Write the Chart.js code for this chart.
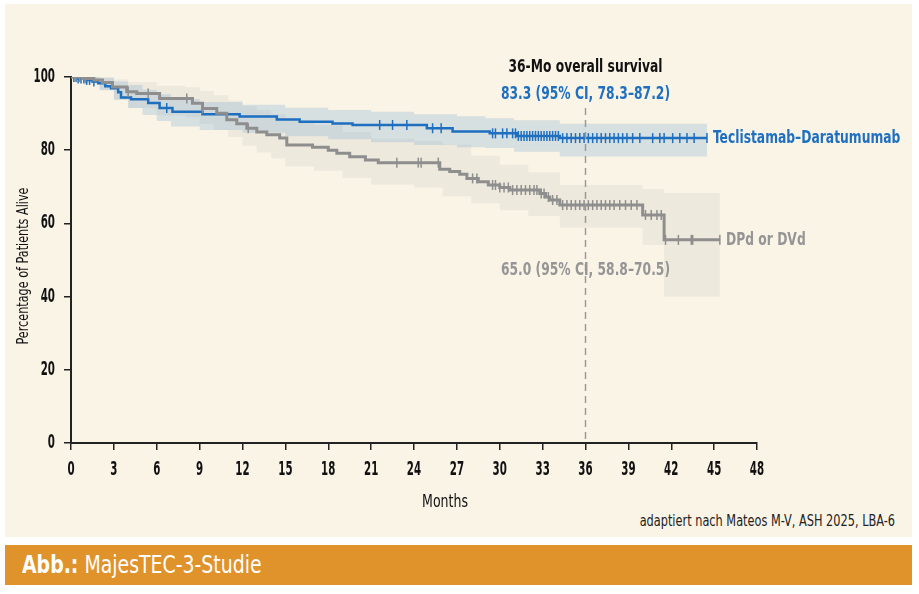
<!DOCTYPE html>
<html>
<head>
<meta charset="utf-8">
<script src="https://cdn.jsdelivr.net/npm/chart.js@4"></script>
<style>
  body { margin: 0; background: #fff; width: 919px; height: 594px; overflow: hidden; position: relative; }
  #panel { position: absolute; left: 5px; top: 4px; width: 907px; height: 533px; background: #FAF4E7; }
  #banner { position: absolute; left: 5px; top: 545px; width: 907px; height: 40px; background: #E0922B; }
  #banner span { position: absolute; left: 17px; top: 5px; line-height: 40px; white-space: nowrap; color: #fff;
                 font: 25px 'DejaVu Sans Condensed', 'DejaVu Sans', sans-serif; transform: scaleX(0.84); transform-origin: 0 50%; }
  #banner b { font-weight: bold; }
  #source { position: absolute; right: 24px; top: 512px; white-space: nowrap; color: #222;
            font: 15px 'DejaVu Sans Condensed', 'DejaVu Sans', sans-serif; transform: scaleX(0.84); transform-origin: 100% 50%; }
  canvas { position: absolute; left: 0; top: 0; }
</style>
</head>
<body>
<div id="panel"></div>
<div id="source">adaptiert nach Mateos M-V, ASH 2025, LBA-6</div>
<div id="banner"><span><b>Abb.:</b> MajesTEC-3-Studie</span></div>
<canvas id="km" width="919" height="594"></canvas>
<script>
const FONT = "'DejaVu Sans Condensed', 'DejaVu Sans', sans-serif";
const BLUE = '#1E6FC0';
const GREY = '#8E8E8E';
const GREY_TEXT = '#959595';

// Teclistamab–Daratumumab (months, % alive)
const tecTimes = [0, 0.5, 1.0, 1.5, 1.9, 2.4, 2.8, 3.3, 3.5, 4.2, 5.4, 6.2, 7.1, 9.2, 11.8, 14.4, 16.0, 18.3, 19.7, 24.9, 26.7, 29.3, 31.2, 34.2, 44.5];
const tecSurv  = [100, 99.6, 99.2, 98.8, 98.3, 97.5, 96.9, 95.8, 94.4, 93.9, 92.9, 91.5, 90.5, 89.8, 89.2, 88.4, 87.8, 87.3, 86.9, 86.0, 85.1, 84.6, 83.9, 83.3, 83.3];
const tecCiTimes = [0, 1, 2, 3, 4, 5, 6, 7, 9, 12, 15, 18, 21, 24, 27, 29, 31, 34.2, 44.5];
const tecCiHigh  = [100, 100, 99.8, 98.8, 97.8, 96.5, 95.3, 94.0, 93.2, 92.4, 91.6, 91.0, 90.5, 89.8, 89.3, 88.7, 88.2, 87.2, 87.2];
const tecCiLow   = [100, 98.4, 96.4, 93.8, 91.5, 89.6, 88.0, 86.5, 85.5, 84.8, 83.8, 83.0, 82.2, 81.4, 80.8, 80.6, 79.6, 78.3, 78.3];
const tecCensor = [0.2, 0.35, 0.5, 0.7, 0.9, 1.1, 1.3, 1.6, 6.7, 21.6, 22.5, 23.5, 25.3, 25.9, 29.5, 29.7, 30.2, 30.5,
  30.9, 31.1, 31.3, 31.5, 31.7, 31.9, 32.1, 32.3, 32.5, 32.7, 32.9, 33.1, 33.3, 33.5, 33.7, 33.9, 34.1, 34.4, 34.7,
  35.0, 35.3, 35.6, 35.9, 36.2, 36.5, 36.8, 37.1, 37.4, 37.7, 38.0, 38.3, 38.6, 38.9, 39.3, 39.8, 40.7, 41.2, 41.5,
  42.1, 42.6, 43.1, 43.6, 44.5];

// DPd or DVd
const dpdTimes = [0, 0.8, 1.6, 2.2, 2.9, 3.9, 4.6, 6.2, 8.5, 9.2, 10.2, 10.9, 11.6, 12.3, 13.0, 13.7, 14.6, 15.1, 16.9, 18.0, 18.6, 19.5, 20.6, 21.5, 25.8, 26.5, 27.2, 27.7, 28.5, 29.2, 30.0, 30.7, 32.8, 33.2, 33.5, 34.2, 40.0, 41.5, 45.4];
const dpdSurv  = [100, 99.6, 99.2, 98.5, 97.3, 96.0, 95.5, 94.1, 92.8, 91.4, 90.1, 88.3, 87.2, 86.0, 85.0, 84.2, 83.3, 81.4, 80.8, 80.0, 79.2, 78.2, 77.3, 76.6, 74.8, 74.2, 73.4, 72.3, 71.4, 70.5, 69.8, 69.1, 68.2, 67.2, 66.4, 65.0, 62.3, 55.5, 55.5];
const dpdCiTimes = [0, 1, 2, 3, 4, 6, 8, 9, 10, 11, 12, 13, 14, 15, 17, 19, 21, 24, 26, 28, 30, 32, 34.2, 40.0, 41.5, 45.4];
const dpdCiHigh  = [100, 100, 99.9, 99.3, 98.6, 97.6, 97.2, 96.2, 95.0, 93.6, 92.0, 91.0, 89.8, 88.2, 86.8, 85.0, 83.2, 82.6, 81.5, 78.5, 76.0, 74.0, 70.5, 69.4, 68.3, 68.3];
const dpdCiLow   = [100, 98.2, 96.5, 93.8, 91.5, 89.5, 89.0, 87.2, 85.5, 83.6, 81.2, 79.4, 77.8, 75.6, 74.4, 72.4, 70.6, 69.8, 67.4, 65.5, 63.6, 62.0, 58.8, 54.1, 40.0, 40.0];
const dpdCensor = [0.3, 0.6, 1.0, 4.0, 5.4, 8.1, 9.2, 12.4, 22.8, 24.3, 24.5, 25.7, 28.1, 28.4, 29.5, 29.7, 30.0, 30.3,
  30.6, 30.9, 31.2, 31.5, 31.8, 32.1, 32.4, 32.6, 32.9, 33.1, 33.4, 33.7, 34.0, 34.4, 34.7, 35.0, 35.3, 35.6, 35.9,
  36.2, 36.5, 36.8, 37.1, 37.4, 37.7, 38.0, 38.4, 38.8, 39.2, 39.6, 40.2, 40.6, 41.0, 41.3, 41.6, 42.5, 43.4, 43.5, 45.4];

const landmark = 36;
const landmarkTop = 91.5;

function pts(times, vals) {
  return times.map((t, i) => ({ x: t, y: vals[i] }));
}
// y of a KM step curve at time t
function stepAt(times, vals, t) {
  let v = vals[0];
  for (let i = 0; i < times.length; i++) { if (times[i] <= t) v = vals[i]; }
  return v;
}
function censorPts(cens, times, vals) {
  return cens.map(t => ({ x: t, y: stepAt(times, vals, t) }));
}

const stepLine = (data, color, width) => ({
  data, borderColor: color, borderWidth: width, pointRadius: 0, stepped: true, fill: false
});
const band = (data, fillColor, fill) => ({
  data, borderWidth: 0, borderColor: 'transparent', backgroundColor: fillColor, pointRadius: 0, stepped: true, fill
});
const ticks = (data, color) => ({
  type: 'scatter', data, showLine: false, pointStyle: 'line', rotation: 90, pointRadius: 5,
  borderColor: color, borderWidth: 1.5, backgroundColor: color
});

// the reference uses a condensed face, so squeeze the text horizontally
function narrowText(ctx, text, x, y, font, color, align, sx, rot) {
  ctx.save();
  ctx.translate(x, y);
  if (rot) ctx.rotate(rot);
  ctx.scale(sx, 1);
  ctx.font = font;
  ctx.fillStyle = color;
  ctx.textAlign = align;
  ctx.textBaseline = 'middle';
  ctx.fillText(text, 0, 0);
  ctx.restore();
}

const textPlugin = {
  id: 'texts',
  afterDraw(chart) {
    const { ctx, scales: { x, y } } = chart;
    const tickFont = 'bold 19px ' + FONT;
    x.ticks.forEach((t, i) => narrowText(ctx, String(t.value), x.getPixelForTick(i), 470, tickFont, '#111', 'center', 0.6));
    y.ticks.forEach((t, i) => narrowText(ctx, String(t.value), 55, y.getPixelForTick(i), tickFont, '#111', 'right', 0.6));
    narrowText(ctx, 'Months', 445, 503, '17px ' + FONT, '#111', 'center', 0.82);
    narrowText(ctx, 'Percentage of Patients Alive', 24, 266, '16px ' + FONT, '#111', 'center', 0.78, -Math.PI / 2);

    const cx = x.getPixelForValue(landmark);
    const big = 'bold 18px ' + FONT;
    narrowText(ctx, '36-Mo overall survival', cx, 67, big, '#111', 'center', 0.76);
    narrowText(ctx, '83.3 (95% CI, 78.3–87.2)', cx, 94, big, BLUE, 'center', 0.76);
    narrowText(ctx, '65.0 (95% CI, 58.8–70.5)', cx, 270, big, GREY_TEXT, 'center', 0.76);
    narrowText(ctx, 'Teclistamab–Daratumumab', 713, 138, big, BLUE, 'left', 0.76);
    narrowText(ctx, 'DPd or DVd', 726, 240, big, GREY_TEXT, 'left', 0.76);
  }
};

new Chart(document.getElementById('km'), {
  type: 'line',
  data: {
    datasets: [
      band(pts(tecCiTimes, tecCiHigh), 'rgba(110,165,205,0.25)', '+1'),
      band(pts(tecCiTimes, tecCiLow), 'transparent', false),
      band(pts(dpdCiTimes, dpdCiHigh), 'rgba(140,140,140,0.10)', '+1'),
      band(pts(dpdCiTimes, dpdCiLow), 'transparent', false),
      { data: [{ x: landmark, y: landmarkTop }, { x: landmark, y: 0 }], borderColor: '#9A9A9A', borderWidth: 1.5,
        borderDash: [7, 5], pointRadius: 0, fill: false },
      stepLine(pts(dpdTimes, dpdSurv), GREY, 3),
      ticks(censorPts(dpdCensor, dpdTimes, dpdSurv), GREY),
      stepLine(pts(tecTimes, tecSurv), BLUE, 2.5),
      ticks(censorPts(tecCensor, tecTimes, tecSurv), BLUE)
    ]
  },
  options: {
    responsive: false,
    animation: false,
    layout: { padding: { left: 15, top: 77, right: 162, bottom: 81 } },
    plugins: {
      legend: { display: false },
      tooltip: { enabled: false },
      filler: { drawTime: 'beforeDatasetsDraw' }
    },
    scales: {
      x: {
        type: 'linear', min: 0, max: 48,
        ticks: { stepSize: 3, display: false },
        grid: { drawOnChartArea: false, tickLength: 7, color: '#222', lineWidth: 1.5 },
        border: { color: '#222', width: 2 },
        afterFit: s => { s.height = 70; }
      },
      y: {
        min: 0, max: 100,
        ticks: { stepSize: 20, display: false },
        grid: { drawOnChartArea: false, tickLength: 7, color: '#222', lineWidth: 1.5 },
        border: { color: '#222', width: 2 },
        afterFit: s => { s.width = 56; }
      }
    }
  },
  plugins: [textPlugin]
});
</script>
</body>
</html>
